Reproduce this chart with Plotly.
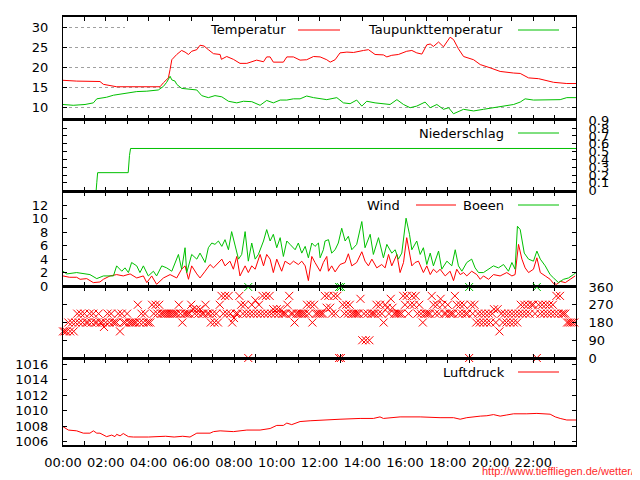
import plotly.graph_objects as go

RED = "#ff0000"
GREEN = "#00c000"
GRID = "#a0a0a0"
FONT = "DejaVu Sans"

# ---------------- data ----------------
hour_ticks = list(range(25))
hour_labels = ["00:00", "", "02:00", "", "04:00", "", "06:00", "", "08:00", "", "10:00", "",
               "12:00", "", "14:00", "", "16:00", "", "18:00", "", "20:00", "", "22:00", "", ""]

temp_hours = [0.0, 0.64, 1.73, 1.89, 2.51, 3.29, 4.54, 4.70, 4.93, 5.01,
              5.09, 5.32, 5.55, 5.71, 5.87, 6.02, 6.26, 6.41, 6.60, 6.80,
              7.04, 7.35, 7.41, 7.66, 7.97, 8.28, 8.60, 9.06, 9.38, 9.53,
              9.69, 9.84, 10.31, 10.47, 10.78, 11.09, 11.40, 11.72, 12.03, 12.34,
              12.50, 12.73, 12.96, 13.28, 13.59, 14.06, 14.29, 14.60, 14.99, 15.15,
              15.38, 15.69, 16.08, 16.32, 16.55, 16.79, 17.02, 17.18, 17.33, 17.57,
              17.80, 18.11, 18.27, 18.50, 18.74, 19.21, 19.52, 19.98, 20.45, 21.08,
              21.39, 21.78, 22.25, 22.95, 23.57, 24.0]
temp_vals = [16.8, 16.6, 16.5, 15.8, 15.2, 15.2, 15.2, 16.2, 17.4, 19.5,
             21.9, 23.2, 24.2, 23.8, 23.2, 24.0, 24.4, 25.5, 25.3, 24.4,
             23.4, 23.2, 22.0, 22.7, 22.0, 21.0, 21.0, 21.8, 21.4, 22.6,
             22.6, 21.3, 21.3, 22.6, 22.6, 21.8, 21.9, 22.7, 22.6, 21.9,
             21.3, 21.9, 23.6, 23.8, 23.7, 24.2, 24.4, 23.2, 23.1, 22.6,
             23.0, 23.2, 24.0, 24.2, 23.6, 23.3, 25.6, 25.8, 25.2, 26.3,
             25.1, 27.5, 26.9, 24.6, 22.7, 21.9, 20.7, 19.9, 19.0, 18.6,
             18.5, 17.4, 17.2, 16.3, 16.0, 16.0]

dew_hours = [0.0, 0.48, 1.03, 1.19, 1.42, 1.58, 2.04, 2.36, 2.82, 3.21,
             3.45, 3.92, 4.46, 4.70, 4.85, 5.01, 5.09, 5.24, 5.32, 5.55,
             5.94, 6.26, 6.49, 6.80, 7.11, 7.43, 7.74, 8.13, 8.44, 8.83,
             9.22, 9.53, 9.84, 10.16, 10.47, 10.78, 11.09, 11.40, 11.72, 12.03,
             12.34, 12.81, 13.12, 13.43, 13.74, 13.98, 14.21, 14.60, 14.99, 15.30,
             15.62, 15.93, 16.24, 16.55, 16.94, 17.18, 17.49, 17.80, 18.04, 18.27,
             18.74, 19.21, 19.67, 20.14, 20.61, 21.08, 21.39, 21.62, 22.01, 22.64,
             23.26, 23.57, 24.0]
dew_vals = [10.8, 10.6, 10.8, 11.0, 11.2, 12.2, 12.6, 13.1, 13.5, 13.7,
            14.0, 14.1, 14.4, 15.3, 16.3, 17.8, 16.9, 16.6, 15.8, 14.8,
            14.5, 14.4, 13.0, 12.5, 13.0, 12.7, 11.6, 11.2, 11.6, 11.5,
            10.6, 11.8, 11.2, 11.9, 11.9, 12.2, 12.2, 12.9, 12.5, 12.2,
            12.0, 12.5, 11.2, 11.0, 11.9, 10.4, 11.6, 11.2, 11.0, 10.8,
            12.0, 10.8, 10.0, 10.4, 11.4, 10.0, 10.8, 9.6, 10.0, 8.5,
            9.6, 9.2, 9.6, 10.0, 10.4, 10.8, 11.4, 12.2, 11.9, 12.0,
            12.0, 12.5, 12.5]

rain_hours = [0.0, 1.55, 1.58, 1.62, 3.05, 3.08, 3.11, 3.16, 24.0]
rain_vals = [0.0, 0.0, 0.1, 0.23, 0.23, 0.36, 0.45, 0.54, 0.54]
rain_ticks = [0, 0.1, 0.2, 0.3, 0.4, 0.5, 0.6, 0.7, 0.8, 0.9]
rain_labels = ["0", "0.1", "0.2", "0.3", "0.4", "0.5", "0.6", "0.7", "0.8", "0.9"]

wind_hours = [0.0, 0.3, 0.64, 0.80, 1.11, 1.42, 1.73, 1.89, 2.20, 2.51,
              2.82, 3.14, 3.45, 3.76, 3.92, 4.15, 4.38, 4.70, 5.01, 5.32,
              5.55, 5.71, 5.87, 6.02, 6.26, 6.41, 6.65, 6.88, 7.04, 7.27,
              7.43, 7.58, 7.81, 7.97, 8.13, 8.28, 8.52, 8.67, 8.83, 8.99,
              9.22, 9.38, 9.53, 9.69, 9.84, 10.0, 10.23, 10.39, 10.62, 10.78,
              11.01, 11.17, 11.33, 11.48, 11.64, 11.79,
              12.03, 12.18, 12.34, 12.42, 12.57, 12.73, 12.96, 13.20, 13.35, 13.51,
              13.74, 13.98, 14.13, 14.29, 14.45, 14.68, 14.91, 15.07, 15.23, 15.38,
              15.62, 15.77, 15.93, 16.08, 16.21, 16.32, 16.47, 16.63, 16.86, 17.02,
              17.18, 17.33, 17.49, 17.64, 17.88, 18.11, 18.27, 18.42, 18.58, 18.74,
              18.89, 19.12, 19.36, 19.52, 19.67, 19.91, 20.14, 20.45, 20.76, 21.0,
              21.15, 21.23, 21.31, 21.47, 21.62, 21.78, 22.01, 22.17, 22.33, 22.56,
              22.79, 22.95, 23.1, 23.26, 23.5, 23.73, 23.96]
wind_vals = [1.5, 1.3, 1.3, 1.0, 1.1, 0.5, 0.6, 1.0, 1.5, 1.7,
             1.5, 1.8, 1.2, 1.5, 0.5, 1.5, 0.25, 1.2, 1.7, 1.2,
             2.5, 3.0, 1.0, 3.0, 1.8, 1.2, 2.2, 3.2, 2.7, 3.5,
             4.0, 3.0, 3.7, 2.5, 4.4, 1.5, 3.0, 2.0, 3.0, 2.5,
             4.7, 3.0, 4.7, 4.0, 2.0, 4.0, 2.2, 3.7, 3.2, 3.7,
             3.2, 3.7, 3.0, 0.8, 4.4, 3.5,
             2.2, 3.5, 4.4, 2.2, 3.0, 2.1, 3.2, 3.5, 4.8, 3.0,
             3.5, 5.1, 3.7, 3.0, 4.0, 2.7, 3.2, 2.7, 4.7, 3.0,
             4.7, 2.0, 3.5, 7.2, 4.7, 3.0, 3.5, 3.7, 2.0, 3.0,
             1.7, 2.5, 2.0, 2.5, 1.5, 2.2, 0.8, 2.5, 1.7, 2.0,
             1.5, 2.2, 1.7, 1.0, 1.5, 1.0, 1.7, 1.5, 2.0, 1.5,
             1.7, 3.7, 6.2, 4.0, 2.7, 2.0, 2.5, 4.2, 2.0, 1.5,
             1.0, 0.35, 0.25, 0.7, 0.5, 1.0, 1.5]

gust_hours = [0.0, 0.17, 0.64, 1.11, 1.26, 1.58, 1.89, 2.36, 2.51, 2.75,
              2.90, 3.06, 3.21, 3.45, 3.60, 3.76, 3.99, 4.23, 4.38, 4.62,
              4.85, 5.09, 5.24, 5.40, 5.55, 5.71, 5.79, 6.02, 6.26, 6.41,
              6.65, 6.80, 6.96, 7.11, 7.27, 7.43, 7.58, 7.74, 7.89, 8.05,
              8.21, 8.36, 8.52, 8.67, 8.83, 8.99, 9.14, 9.38, 9.53, 9.69,
              9.84, 10.0, 10.16, 10.31, 10.47, 10.62, 10.86, 11.01, 11.17, 11.33,
              11.48, 11.64, 11.79, 11.95,
              12.03, 12.18, 12.26, 12.42, 12.57, 12.73, 12.88, 13.04, 13.20, 13.35,
              13.51, 13.74, 13.98, 14.13, 14.37, 14.52, 14.76, 14.99, 15.15, 15.38,
              15.54, 15.69, 15.85, 16.05, 16.21, 16.32, 16.55, 16.71, 16.86, 17.02,
              17.18, 17.33, 17.57, 17.72, 17.96, 18.19, 18.35, 18.50, 18.66, 18.89,
              19.12, 19.28, 19.44, 19.67, 19.91, 20.14, 20.37, 20.61, 20.84, 21.0,
              21.15, 21.26, 21.39, 21.58, 21.78, 22.01, 22.17, 22.33, 22.56, 22.79,
              22.95, 23.18, 23.42, 23.65, 23.88, 24.0]
gust_vals = [2.2, 1.8, 2.0, 1.8, 1.7, 1.1, 1.5, 1.5, 3.0, 2.2,
             2.7, 2.0, 3.5, 3.0, 2.0, 3.0, 1.5, 2.2, 1.5, 3.0,
             2.7, 2.2, 3.5, 4.7, 2.5, 5.7, 2.0, 4.7, 4.0, 4.9,
             3.5, 5.7, 6.4, 6.2, 6.7, 5.9, 6.9, 5.4, 8.1, 6.2,
             4.0, 4.7, 8.1, 3.7, 6.4, 4.0, 4.7, 6.7, 8.4, 6.7,
             7.7, 5.7, 7.2, 4.4, 6.7, 6.2, 5.4, 6.4, 4.9, 5.9,
             4.2, 6.4, 5.9, 6.4,
             4.2, 5.4, 6.7, 6.9, 4.9, 5.4, 6.4, 8.6, 6.7, 7.4,
             5.4, 6.2, 9.6, 5.7, 7.7, 4.7, 7.2, 4.2, 6.2, 4.9,
             5.4, 4.0, 4.9, 10.1, 7.7, 5.4, 6.7, 4.7, 5.7, 3.2,
             4.9, 3.0, 5.2, 2.5, 3.7, 3.0, 5.4, 3.0, 2.2, 3.5,
             4.0, 2.7, 2.0, 2.0, 2.5, 3.0, 2.7, 3.2, 2.2, 3.5,
             2.5, 8.9, 8.4, 4.9, 4.0, 3.7, 5.2, 4.0, 3.0, 1.7,
             1.2, 0.5, 1.0, 1.2, 1.7, 2.0]

wind_left_ticks = [0, 2, 4, 6, 8, 10, 12]
beaufort_limits = [0.3, 1.6, 3.4, 5.5, 8.0, 10.8, 13.9]
beaufort_label_pos = [6.75, 9.4]
beaufort_labels = ["4", "5"]

# wind direction (degrees), one row per hour, 5-minute samples
dir_rows = [
    [135, 135, 135, 180, 135, 180, 135, 180, 225, 180, 225, 180],
    [225, 180, 180, 225, 180, 225, 180, 180, 225, 180, 180, 157.5],
    [180, 225, 180, 225, 180, 180, 180, 225, 135, 225, 180, 180],
    [225, 180, 180, 180, 180, 180, 270, 180, 225, 180, 225, 180],
    [180, 180, 270, 225, 270, 225, 270, 225, 225, 225, 225, 225],
    [225, 225, 225, 225, 225, 270, 225, 180, 225, 225, 225, 225],
    [270, 247.5, 225, 247.5, 225, 247.5, 225, 225, 270, 225, 225, 180],
    [225, 180, 225, 180, 270, 315, 225, 315, 225, 315, 225, 180],
    [202.5, 225, 225, 315, 270, 225, 270, 225, 0, 225, 270, 225],
    [292.5, 225, 270, 225, 315, 225, 315, 225, 315, 225, 247.5, 225],
    [247.5, 225, 247.5, 225, 225, 225, 270, 315, 225, 225, 180, 225],
    [225, 225, 225, 225, 225, 270, 225, 270, 180, 270, 225, 225],
    [225, 225, 225, 315, 255, 315, 255, 225, 315, 225, 315, 0],
    [0, 270, 225, 270, 225, 270, 225, 225, 225, 225, 225, 300],
    [90, 225, 90, 225, 90, 225, 225, 225, 270, 225, 270, 225],
    [180, 270, 255, 225, 300, 255, 225, 225, 225, 225, 225, 315],
    [270, 315, 225, 270, 315, 270, 315, 225, 270, 225, 180, 225],
    [225, 225, 225, 315, 270, 225, 270, 225, 300, 270, 225, 225],
    [270, 225, 225, 225, 315, 270, 225, 270, 225, 270, 225, 225],
    [0, 270, 225, 270, 180, 225, 180, 225, 180, 225, 180, 225],
    [180, 225, 247.5, 180, 247.5, 135, 225, 180, 225, 180, 225, 180],
    [225, 180, 225, 180, 225, 270, 225, 270, 225, 270, 225, 270],
    [270, 225, 0, 270, 225, 270, 225, 270, 225, 270, 225, 270],
    [225, 315, 225, 315, 225, 225, 225, 180, 180, 180, 180, 180],
]
dir_ticks = [0, 90, 180, 270, 360]

pres_hours = [0.0, 0.25, 0.64, 0.95, 1.26, 1.42, 1.58, 1.73, 2.04, 2.28,
              2.43, 2.51, 2.67, 2.82, 3.06, 3.29, 4.0, 4.8, 5.2, 5.6,
              5.94, 6.10, 6.26, 6.88, 7.04, 7.35, 7.97, 8.60, 9.22, 9.69,
              10.0, 10.31, 10.47, 10.70, 11.09, 11.56, 12.03, 12.96, 13.9, 14.52,
              14.83, 14.99, 15.77, 16.71, 17.64, 18.27, 18.58, 18.89, 19.52, 19.83,
              20.14, 20.45, 20.76, 21.08, 21.70, 22.17, 22.79, 23.03, 23.26, 23.57,
              24.0]
pres_vals = [1007.94, 1007.5, 1007.4, 1007.1, 1007.1, 1007.4, 1007.1, 1007.1, 1006.65, 1006.85,
             1006.65, 1006.95, 1006.75, 1007.05, 1006.65, 1006.6, 1006.6, 1006.7, 1006.6, 1006.7,
             1006.6, 1006.85, 1007.1, 1007.1, 1007.3, 1007.4, 1007.3, 1007.5, 1007.5, 1007.7,
             1008.1, 1008.1, 1008.4, 1008.2, 1008.6, 1008.7, 1008.8, 1008.9, 1009.0, 1009.0,
             1009.2, 1009.0, 1009.2, 1009.2, 1009.1, 1009.1, 1008.9, 1009.1, 1009.3, 1009.35,
             1009.5, 1009.3, 1009.45, 1009.6, 1009.6, 1009.65, 1009.55, 1009.2, 1009.0, 1008.8,
             1008.8]
pres_ticks = [1006, 1008, 1010, 1012, 1014, 1016]

# ---------------- derived ----------------
dir_hours, dir_vals = [], []
for h, row in enumerate(dir_rows):
    for k, d in enumerate(row):
        dir_hours.append(h + k / 12.0)
        dir_vals.append(d)
north_hours = [t for t, d in zip(dir_hours, dir_vals) if d == 0]
north_wrap = [360 for _ in north_hours]

# ---------------- geometry (page pixels; page body has an 8px margin) ----------------
OFF = 8
W, H = 640 - OFF, 480 - OFF


def px(x):
    return (x - OFF) / W


def py(y):
    return 1 - (y - OFF) / H


XL, XR = 63, 576
panels = [(17, 119), (120, 191), (192, 286), (287, 358), (359, 445)]
xdom = [px(XL), px(XR)]
ydom = [[py(b), py(t)] for t, b in panels]

fig = go.Figure()
fig.add_trace(go.Scatter(x=temp_hours, y=temp_vals, mode="lines", line=dict(color=RED, width=1), xaxis="x", yaxis="y"))
fig.add_trace(go.Scatter(x=dew_hours, y=dew_vals, mode="lines", line=dict(color=GREEN, width=1), xaxis="x", yaxis="y"))
fig.add_trace(go.Scatter(x=rain_hours, y=rain_vals, mode="lines", line=dict(color=GREEN, width=1), xaxis="x2", yaxis="y2"))
fig.add_trace(go.Scatter(x=wind_hours, y=wind_vals, mode="lines", line=dict(color=RED, width=1), xaxis="x3", yaxis="y3"))
fig.add_trace(go.Scatter(x=gust_hours, y=gust_vals, mode="lines", line=dict(color=GREEN, width=1), xaxis="x3", yaxis="y3"))
fig.add_trace(go.Scatter(x=dir_hours, y=dir_vals, mode="markers", cliponaxis=False,
                         marker=dict(symbol="x-thin", size=8, line=dict(color=RED, width=1)),
                         xaxis="x4", yaxis="y4"))
fig.add_trace(go.Scatter(x=north_hours, y=north_wrap, mode="markers", cliponaxis=False,
                         marker=dict(symbol="x-thin", size=8, line=dict(color=GREEN, width=1)),
                         xaxis="x4", yaxis="y4"))
fig.add_trace(go.Scatter(x=pres_hours, y=pres_vals, mode="lines", line=dict(color=RED, width=1), xaxis="x5", yaxis="y5"))


def xaxis(i, labels=False):
    d = dict(domain=xdom, range=[0, 24], anchor="y" if i == 1 else f"y{i}", automargin=False,
             showline=True, linecolor="black", linewidth=1.5, mirror="allticks",
             ticks="inside", ticklen=4, tickcolor="black", tickwidth=1,
             tickvals=hour_ticks, ticktext=hour_labels, showgrid=False, zeroline=False,
             showticklabels=labels)
    if labels:
        d["ticklabelstandoff"] = 5
    return d


def yaxis(i, standoff=11, **kw):
    d = dict(domain=ydom[i - 1], anchor="x" if i == 1 else f"x{i}", automargin=False,
             showline=True, linecolor="black", linewidth=1, mirror="allticks",
             ticks="inside", ticklen=4, tickcolor="black", tickwidth=1,
             showgrid=False, zeroline=False, ticklabelstandoff=standoff)
    d.update(kw)
    return d


fig.update_layout(
    template="none",
    width=W, height=H, margin=dict(l=0, r=0, t=0, b=0, autoexpand=False),
    paper_bgcolor="white", plot_bgcolor="white", showlegend=False,
    font=dict(family=FONT, size=13, color="black"),
    xaxis=xaxis(1), xaxis2=xaxis(2), xaxis3=xaxis(3), xaxis4=xaxis(4), xaxis5=xaxis(5, True),
    yaxis=yaxis(1, range=[7.2, 32.5], tickvals=[10, 15, 20, 25, 30], showgrid=True,
                gridcolor=GRID, griddash="3px,3px", gridwidth=1),
    yaxis2=yaxis(2, standoff=9, range=[-0.005, 0.905], side="right", tickvals=rain_ticks, ticktext=rain_labels),
    yaxis3=yaxis(3, range=[0, 14], tickvals=wind_left_ticks),
    yaxis4=yaxis(4, standoff=9, range=[0, 360], side="right", tickvals=dir_ticks),
    yaxis5=yaxis(5, range=[1005.57, 1016.68], tickvals=pres_ticks),
    yaxis6=dict(overlaying="y3", anchor="x3", side="right", range=[0, 14], tickvals=beaufort_limits,
                automargin=False, showticklabels=False, ticks="", showgrid=True, gridcolor=GRID,
                griddash="1px,2px", gridwidth=1, showline=False, zeroline=False),
    yaxis7=dict(overlaying="y3", anchor="x3", side="right", range=[0, 14], tickvals=beaufort_label_pos,
                automargin=False, ticktext=beaufort_labels, ticks="", showgrid=False, showline=False,
                zeroline=False, ticklabelstandoff=9),
)

# gnuplot-style keys: white key box, right-aligned titles followed by line samples
fig.add_shape(type="rect", xref="x", yref="y", x0=2.9, x1=23.9, y0=28.6, y1=32.3,
              fillcolor="white", line=dict(width=0), layer="between")


def key(text, x_text_px, y_px, color, x0_px, x1_px):
    fig.add_annotation(text=text, xref="paper", yref="paper", x=px(x_text_px), y=py(y_px),
                       xanchor="right", yanchor="middle", showarrow=False,
                       font=dict(family=FONT, size=13, color="black"))
    fig.add_shape(type="line", xref="paper", yref="paper", x0=px(x0_px), x1=px(x1_px),
                  y0=py(y_px), y1=py(y_px), line=dict(color=color, width=1))


key("Temperatur", 288, 30, RED, 298, 340)
key("Taupunkttemperatur", 505, 30, GREEN, 518, 559)
key("Niederschlag", 506, 133, GREEN, 518, 559)
key("Wind", 402, 205, RED, 416, 456)
key("Boeen", 506, 205, GREEN, 518, 559)
key("Luftdruck", 507, 372, RED, 518, 559)

fig.add_annotation(text="http://www.tieffliegen.de/wetter/", xref="paper", yref="paper",
                   x=px(637), y=py(471), xanchor="right", yanchor="middle", showarrow=False,
                   font=dict(family="Liberation Sans", size=11, color="#ff2a2a"))

fig.write_html("out.html")
